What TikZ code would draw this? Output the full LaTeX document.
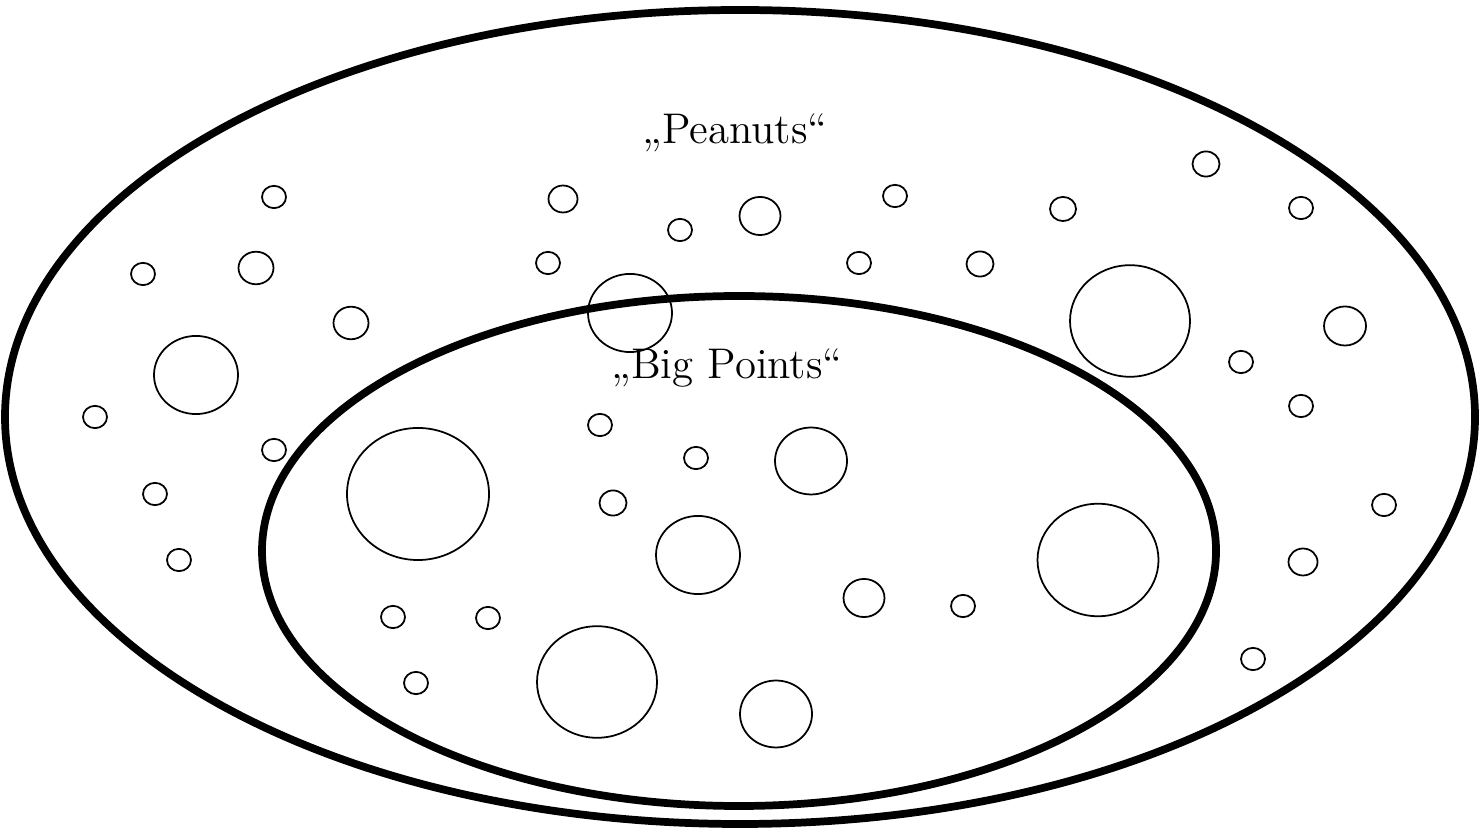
\documentclass[tikz,border=0pt]{standalone}
\usepackage{fontspec}
\usepackage{tikz}
\usetikzlibrary{positioning}
\tikzset{
    setline/.style={draw, line width=2.2pt},
    point/.style={draw, line width=0.5pt},
    setlabel/.style={font=\fontsize{12.2}{14}\selectfont, inner sep=0pt, anchor=base},
}

\begin{document}
\begin{tikzpicture}
    \useasboundingbox (0,0) rectangle (14.79,8.29);

    % the two sets
    \draw[setline] (7.40,4.12) ellipse [x radius=7.35, y radius=4.07];
    \draw[setline] (7.39,2.78) ellipse [x radius=4.77, y radius=2.55];

    \node[setlabel] (peanuts)   at (7.35,6.85) {„Peanuts“};
    \node[setlabel] (bigpoints) at (7.27,4.50) {„Big Points“};

    % points outside the inner set
    \foreach \x/\y/\r in {2.74/6.32/0.12, 1.43/5.55/0.12, 2.56/5.61/0.175, 3.51/5.06/0.175,
                          1.96/4.54/0.42, 0.95/4.12/0.12, 2.74/3.79/0.12, 1.55/3.35/0.12,
                          1.79/2.69/0.12, 5.63/6.30/0.145, 5.48/5.66/0.12, 6.80/5.99/0.12,
                          7.60/6.13/0.205, 6.30/5.16/0.42, 8.95/6.33/0.12, 8.59/5.66/0.12,
                          9.80/5.65/0.135, 10.63/6.20/0.13, 12.06/6.65/0.135, 13.01/6.21/0.12,
                          11.30/5.08/0.60, 13.45/5.03/0.21, 12.41/4.67/0.12, 13.01/4.23/0.12,
                          13.84/3.24/0.12, 13.03/2.67/0.145, 12.53/1.70/0.12}
        \draw[point] (\x,\y) ellipse [x radius=\r, y radius=0.93*\r];

    % points inside the inner set
    \foreach \x/\y/\r in {4.18/3.35/0.71, 6.00/4.04/0.12, 6.96/3.71/0.12, 8.11/3.68/0.36,
                          6.13/3.26/0.135, 6.98/2.74/0.42, 10.98/2.69/0.605, 8.64/2.31/0.205,
                          9.63/2.23/0.12, 3.93/2.12/0.12, 4.88/2.11/0.12, 4.16/1.46/0.12,
                          5.97/1.47/0.60, 7.76/1.15/0.36}
        \draw[point] (\x,\y) ellipse [x radius=\r, y radius=0.93*\r];
\end{tikzpicture}
\end{document}
